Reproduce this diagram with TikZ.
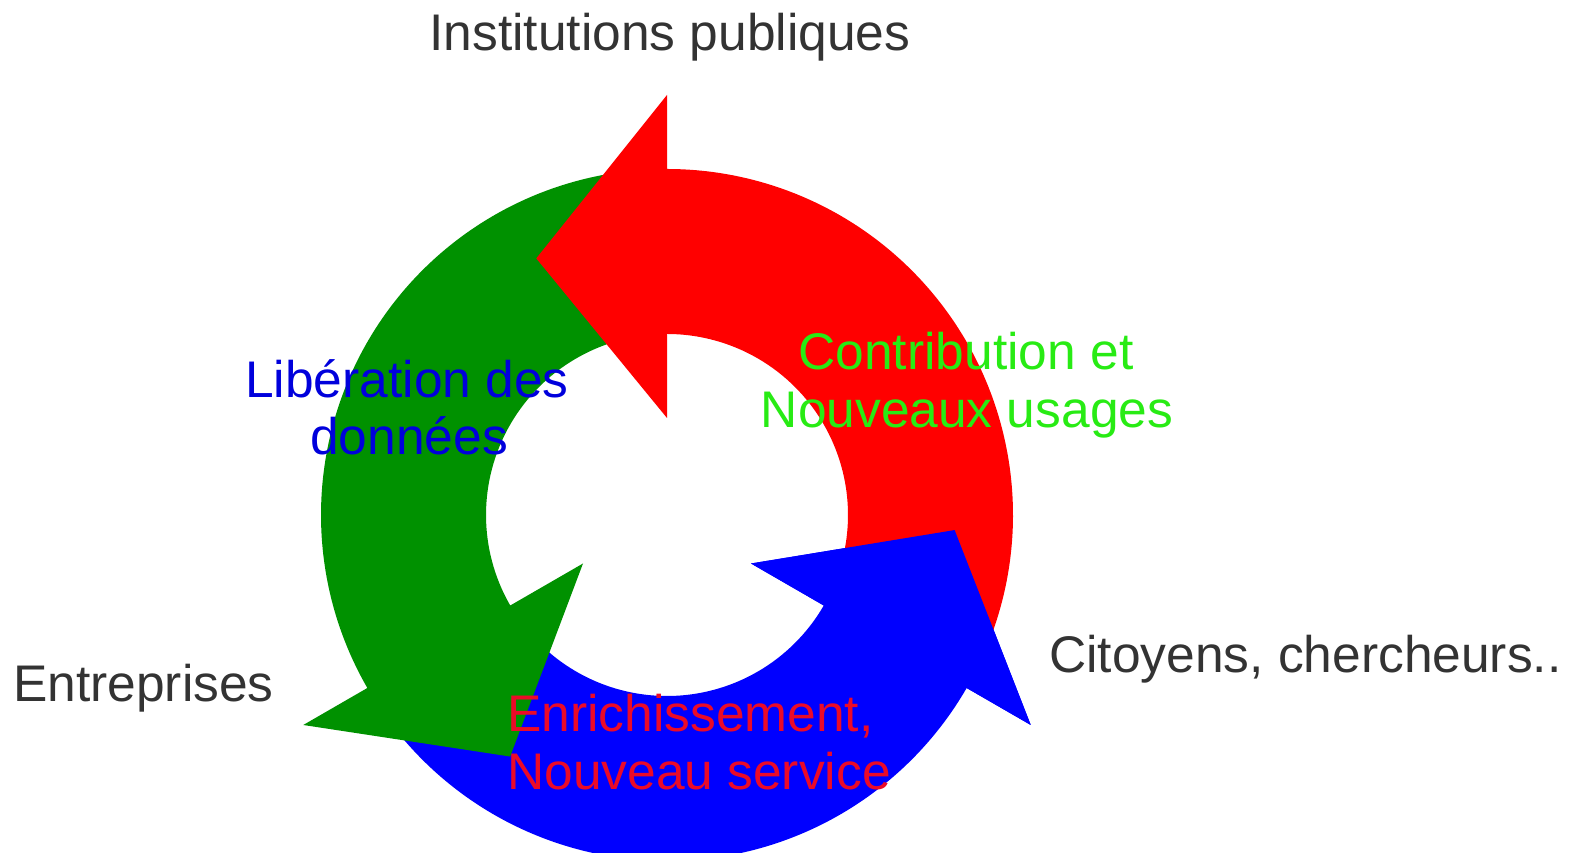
\documentclass[tikz,border=0pt]{standalone}
\usepackage{fontspec}
\setmainfont{Liberation Sans}
\definecolor{cred}{RGB}{255,0,0}
\definecolor{cgreen}{RGB}{0,145,0}
\definecolor{cblue}{RGB}{0,0,255}
\definecolor{tgray}{RGB}{51,51,51}
\definecolor{tblue}{RGB}{0,0,220}
\definecolor{tgreen}{RGB}{40,235,20}
\definecolor{tred}{RGB}{235,10,40}
\newcommand\cyclearrow[2]{%
  \fill[#1] ({#2-112}:346) arc[start angle={#2-112}, end angle={#2}, radius=346]
    -- ({#2}:420) -- ({#2+27}:288) -- ({#2}:97) -- ({#2}:181)
    arc[start angle={#2}, end angle={#2-112}, radius=181] -- cycle;}
\newcommand\cyclehead[2]{%
  \fill[#1] ({#2}:420) -- ({#2+27}:288) -- ({#2}:97) -- cycle;}
\tikzset{
  lbl/.style={font=\fontsize{51.5}{58}\selectfont, inner sep=0pt},
  actor/.style={lbl, text=tgray}
}
\begin{document}
\begin{tikzpicture}[x=1pt,y=1pt]
\useasboundingbox (0,0) rectangle (1571,853);
\begin{scope}[shift={(667,338)}]
  \cyclearrow{cblue}{330}
  \cyclearrow{cgreen}{210}
  \cyclearrow{cred}{90}
  \cyclehead{cblue}{330}
\end{scope}
% actors
\node[actor, anchor=base] (inst) at (670,802) {Institutions publiques};
\node[actor, anchor=base west] (entr) at (13,151) {Entreprises};
\node[actor, anchor=base west] (cito) at (1049,180) {Citoyens, chercheurs..};
% arrow labels
\node[lbl, text=tblue, anchor=base] (lib1) at (407,455) {Libération des};
\node[lbl, text=tblue, anchor=base] (lib2) at (409,398) {données};
\node[lbl, text=tgreen, anchor=base] (con1) at (966,483) {Contribution et};
\node[lbl, text=tgreen, anchor=base] (con2) at (967,425) {Nouveaux usages};
\node[lbl, text=tred, anchor=base west] (enr1) at (507,121) {Enrichissement,};
\node[lbl, text=tred, anchor=base west] (enr2) at (507,63) {Nouveau service};
\end{tikzpicture}
\end{document}
